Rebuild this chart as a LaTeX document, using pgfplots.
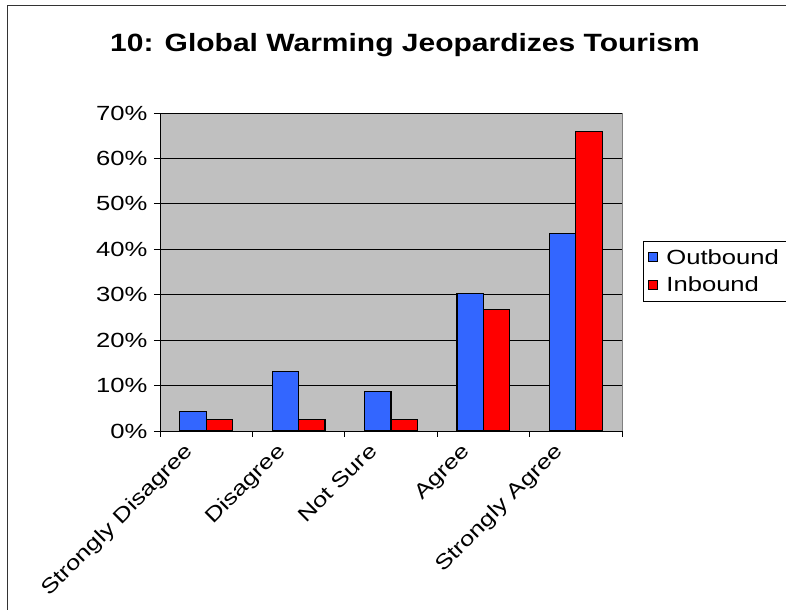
\documentclass[border=0pt]{standalone}
\usepackage{pgfplots}
\pgfplotsset{compat=1.18}
\usepackage{fontspec}
\setmainfont[FakeStretch=1.25]{Liberation Sans}
\newfontfamily\titlefont[FakeStretch=1.2]{Liberation Sans}
\definecolor{obl}{HTML}{3366FF}
\definecolor{inr}{HTML}{FF0000}
\definecolor{bgg}{HTML}{C0C0C0}
\begin{document}
\begin{tikzpicture}
\useasboundingbox (0,0) rectangle (786bp,610bp);
\draw[line width=0.8bp, black!80] (7bp,-5bp) -- (7bp,605bp) -- (800bp,605bp);
\node[font=\titlefont\fontsize{25bp}{30bp}\selectfont\bfseries] at (405bp,565bp) {10: Global Warming Jeopardizes Tourism};
\begin{axis}[at={(160bp,179bp)}, anchor=south west, scale only axis,
  width=462bp, height=318bp,
  xmin=-0.5, xmax=4.5, ymin=0, ymax=70,
  axis background/.style={fill=bgg, draw=gray},
  axis x line*=bottom, axis y line*=left,
  axis line style={-, black, line width=0.8bp},
  ymajorgrids, grid style={black, line width=0.8bp},
  ytick={0,10,...,70},
  yticklabel={\pgfmathprintnumber{\tick}\%},
  yticklabel style={xshift=-3bp},
  /pgf/number format/assume math mode=true,
  tick label style={font=\fontsize{20.5bp}{24bp}\selectfont},
  tick style={black, line width=0.8bp},
  major tick length=6bp, tick align=outside,
  xtick={-0.5,0.5,1.5,2.5,3.5,4.5},
  xticklabels={},
  extra x ticks={0,1,2,3,4},
  extra x tick labels={Strongly Disagree,Disagree,Not Sure,Agree,Strongly Agree},
  extra x tick style={major tick length=0pt, tick label style={xshift=-23bp, yshift=-6bp, rotate=45, anchor=north east}},
  legend style={at={(1.045,0.503)}, anchor=west, draw=black, fill=white,
    font=\fontsize{20.5bp}{24bp}\selectfont, row sep=7bp, inner xsep=5bp, inner ysep=6bp},
  legend cell align=left,
  legend image code/.code={\draw[#1, line width=0.8bp] (0bp,-4.5bp) rectangle (9bp,4.5bp); \path[draw=none, fill=none] (0bp,0bp) -- (16bp,0bp);},
]
\addplot[ybar, fill=obl, draw=black, line width=1.2bp, bar width=0.285, bar shift=-0.1425]
  coordinates {(0,4.3) (1,13.1) (2,8.7) (3,30.3) (4,43.5)};
\addlegendentry{Outbound}
\addplot[ybar, fill=inr, draw=black, line width=1.2bp, bar width=0.285, bar shift=0.1425]
  coordinates {(0,2.5) (1,2.5) (2,2.5) (3,26.7) (4,66.0)};
\addlegendentry{Inbound}
\end{axis}
\end{tikzpicture}
\end{document}
